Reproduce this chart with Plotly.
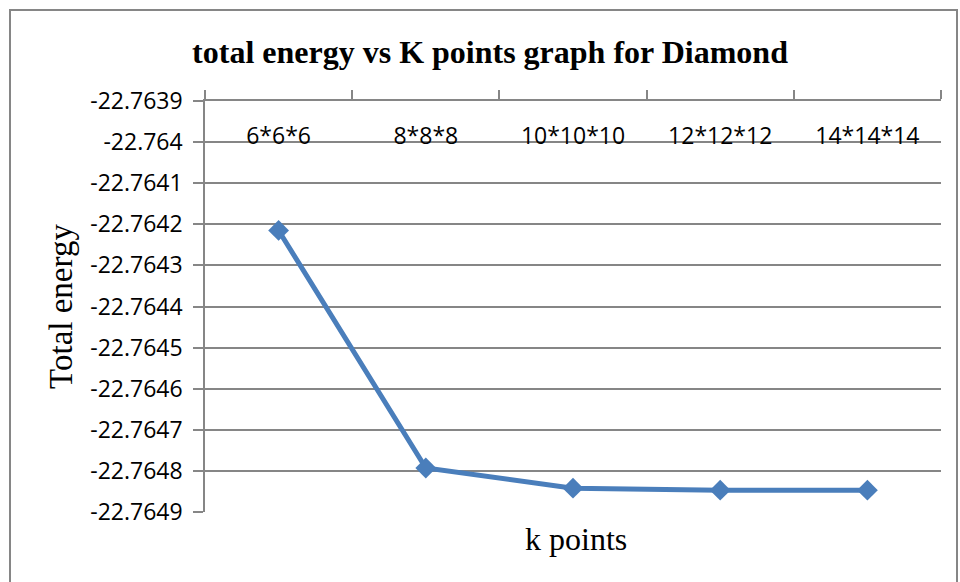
import plotly.graph_objects as go

categories = ["6*6*6", "8*8*8", "10*10*10", "12*12*12", "14*14*14"]
total_energy = [-22.764215, -22.764793, -22.764842, -22.764847, -22.764847]
y_tickvals = [-22.7639, -22.764, -22.7641, -22.7642, -22.7643, -22.7644,
              -22.7645, -22.7646, -22.7647, -22.7648, -22.7649]
y_ticktext = ["-22.7639", "-22.764", "-22.7641", "-22.7642", "-22.7643", "-22.7644",
              "-22.7645", "-22.7646", "-22.7647", "-22.7648", "-22.7649"]

W, H = 960, 582
L, R, T, B = 205, 19, 101, 70
pw, ph = W - L - R, H - T - B

def px(x):
    return (x - L) / pw

def py(y):
    return (H - B - y) / ph

GRID = "#868686"
TICKFONT = dict(family="Open Sans", size=23, color="black")

fig = go.Figure()
fig.add_trace(go.Scatter(
    x=categories, y=total_energy, mode="lines+markers",
    line=dict(color="#4A7EBB", width=5),
    marker=dict(symbol="diamond", size=16, color="#4A7EBB"),
    showlegend=False,
))
# carrier for the category label axis drawn inside the plot
fig.add_trace(go.Scatter(x=[], y=[], xaxis="x2", showlegend=False, hoverinfo="skip"))

fig.update_layout(
    width=W, height=H,
    margin=dict(l=L, r=R, t=T, b=B),
    paper_bgcolor="white", plot_bgcolor="white",
    title=dict(text="<b>total energy vs K points graph for Diamond</b>",
               font=dict(family="Liberation Serif", size=32, color="black"),
               x=490 / W, xanchor="center", y=1 - 52 / H, yanchor="middle"),
    xaxis=dict(
        side="top", type="category", range=[-0.5, len(categories) - 0.5],
        showline=True, linecolor=GRID, linewidth=1.5,
        ticks="outside", tickson="boundaries", ticklen=9, tickcolor=GRID, tickwidth=1.5,
        showticklabels=False, showgrid=False, zeroline=False, automargin=False,
    ),
    xaxis2=dict(
        overlaying="x", anchor="free", position=py(149), side="top",
        range=[-0.5, len(categories) - 0.5],
        tickvals=list(range(len(categories))), ticktext=categories,
        tickfont=TICKFONT, ticks="", showline=False, showgrid=False,
        zeroline=False, automargin=False,
    ),
    yaxis=dict(
        range=[-22.7649, -22.7639], tickvals=y_tickvals, ticktext=y_ticktext,
        showline=True, linecolor=GRID, linewidth=1.5,
        ticks="outside", ticklen=10, tickcolor=GRID, tickwidth=1.5,
        ticklabelstandoff=6, tickfont=TICKFONT,
        showgrid=True, gridcolor=GRID, gridwidth=1.5, zeroline=False, automargin=False,
        title=dict(text="Total energy", font=dict(family="Liberation Serif", size=33, color="black"),
                   standoff=8),
    ),
    shapes=[dict(type="rect", xref="paper", yref="paper",
                 x0=px(10), x1=px(957), y0=py(600), y1=py(10),
                 line=dict(color=GRID, width=2), fillcolor="rgba(0,0,0,0)", layer="below")],
    annotations=[dict(text="k points", xref="paper", yref="paper", x=px(576), y=py(539),
                      xanchor="center", yanchor="middle", showarrow=False,
                      font=dict(family="Liberation Serif", size=32, color="black"))],
)

fig.write_html("out.html", config={"displayModeBar": False},
               post_script="document.body.style.margin='0';")
